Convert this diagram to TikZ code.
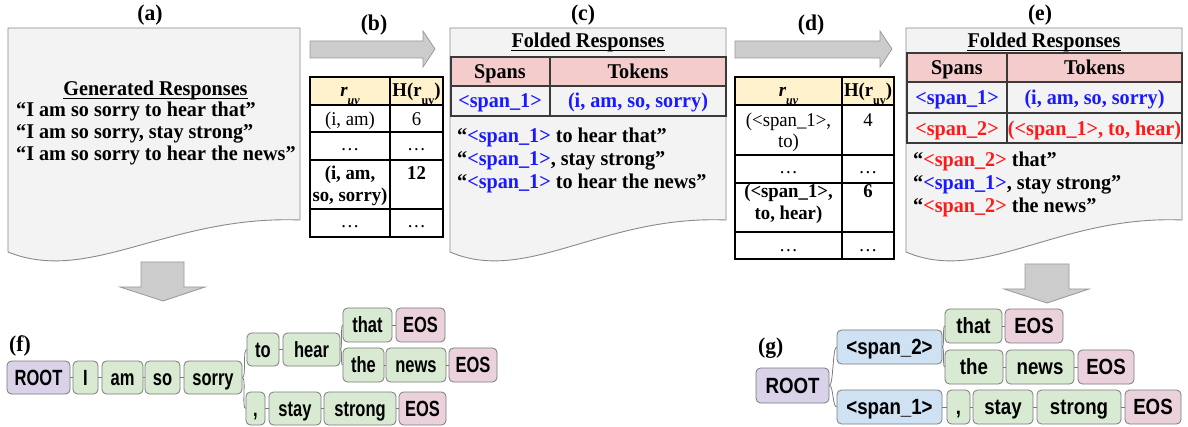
\documentclass[tikz,border=0pt]{standalone}
\usepackage{fontspec}
\setmainfont[FakeStretch=0.96]{Liberation Serif}
\newfontfamily\treefontf[FakeStretch=0.75]{Liberation Sans}
\newfontfamily\treefontg[FakeStretch=0.85]{Liberation Sans}

\definecolor{docfill}{HTML}{F3F3F3}
\definecolor{docline}{HTML}{8A8A8A}
\definecolor{arrfill}{HTML}{CCCCCC}
\definecolor{arrline}{HTML}{9A9A9A}
\definecolor{hdryellow}{HTML}{FFF2CC}
\definecolor{hdrpink}{HTML}{F4CCCC}
\definecolor{gridline}{HTML}{3A3A3A}
\definecolor{tokgreen}{HTML}{D9EAD3}
\definecolor{rootpurple}{HTML}{D9D2E9}
\definecolor{eospink}{HTML}{EAD1DC}
\definecolor{spanblue}{HTML}{CFE2F3}
\definecolor{boxline}{HTML}{7A7A7A}
\definecolor{spanone}{HTML}{1A1AFF}
\definecolor{spantwo}{HTML}{FF1A1A}

\newcommand\spanA{\textcolor{spanone}{<span\_1>}}
\newcommand\spanB{\textcolor{spantwo}{<span\_2>}}
\newcommand\ruv{r\raisebox{-8pt}{\fontsize{12.5}{12.5}\selectfont uv}}

% token box: style, name, left, right, top, bottom, text
\newcommand\tokbox[7]{%
  \node[#1, minimum width={(#4-#3)*1pt}, minimum height={(#6-#5)*1pt}]
    (#2) at ({(#3+#4)/2},{(#5+#6)/2}) {#7};}

% page-like sheet with a wavy lower edge: left, right
\newcommand\sheet[2]{%
  \draw[doc] (#1,28) -- (#2,28) -- (#2,220)
    .. controls ({#1+0.55*(#2-#1)},215) and ({#1+0.28*(#2-#1)},285) .. (#1,252) -- cycle;}

\tikzset{
  doc/.style={fill=docfill, draw=docline, line width=0.9pt},
  bigarrow/.style={fill=arrfill, draw=arrline, line width=0.8pt},
  tok/.style={draw=boxline, line width=0.8pt, rounded corners=4.5pt, inner sep=0pt,
    text height=16.4pt, text depth=0.6pt},
  tokf/.style={tok, font=\treefontf\bfseries\fontsize{22}{22}\selectfont},
  tokg/.style={tok, font=\treefontg\bfseries\fontsize{22}{22}\selectfont},
  wordf/.style={tokf, fill=tokgreen},
  rootf/.style={tokf, fill=rootpurple},
  eosf/.style={tokf, fill=eospink},
  wordg/.style={tokg, fill=tokgreen},
  rootg/.style={tokg, fill=rootpurple},
  eosg/.style={tokg, fill=eospink},
  spang/.style={tokg, fill=spanblue},
  link/.style={draw=boxline, line width=0.8pt},
  txt/.style={inner sep=0pt, anchor=base west, font=\bfseries\fontsize{21}{22}\selectfont},
  ttl/.style={inner sep=0pt, anchor=base, font=\bfseries\fontsize{21}{22}\selectfont},
  lbl/.style={inner sep=0pt, anchor=base, font=\bfseries\fontsize{22.5}{22}\selectfont},
  cellr/.style={inner sep=0pt, anchor=base, font=\fontsize{19.5}{20}\selectfont},
  cellb/.style={inner sep=0pt, anchor=base, font=\bfseries\fontsize{19.5}{20}\selectfont},
  grid/.style={draw=black, line width=1.2pt},
  grid2/.style={draw=gridline, line width=1.5pt},
  uline/.style={draw=black, line width=1pt},
}

\begin{document}
\begin{tikzpicture}[x=1pt,y=-1pt]
\useasboundingbox[fill=white] (0,0) rectangle (1188,427);

% sheets
\sheet{8}{300}
\sheet{450}{726}
\sheet{906}{1182}

% panel labels
\node[lbl] (la) at (150,21) {(a)};
\node[lbl] (lb) at (374,31) {(b)};
\node[lbl] (lc) at (583,21) {(c)};
\node[lbl] (ld) at (811,31) {(d)};
\node[lbl] (le) at (1040,21) {(e)};
\node[lbl, anchor=base west] (lf) at (9,352) {(f)};
\node[lbl, anchor=base west] (lg) at (758,353) {(g)};

% block arrows
\draw[bigarrow] (310,41) -- (423,41) -- (423,31) -- (435,49) -- (423,67) -- (423,58) -- (310,58) -- cycle;
\draw[bigarrow] (735,41) -- (880,41) -- (880,31) -- (892,49) -- (880,67) -- (880,58) -- (735,58) -- cycle;
\draw[bigarrow] (141,262) -- (184,262) -- (184,287) -- (205,287) -- (163,301) -- (120,287) -- (141,287) -- cycle;
\draw[bigarrow] (1025,264) -- (1069,264) -- (1069,289) -- (1089,289) -- (1047,303) -- (1004,289) -- (1025,289) -- cycle;

% (a) generated responses
\node[ttl] (ta) at (155.5,96) {Generated Responses};
\draw[uline] ([yshift=-3pt]ta.base west) -- ([yshift=-3pt]ta.base east);
\node[txt] (a1) at (16,117) {“I am so sorry to hear that”};
\node[txt] (a2) at (16,139) {“I am so sorry, stay strong”};
\node[txt] (a3) at (16,161) {“I am so sorry to hear the news”};

% (b) pair frequency table
\fill[hdryellow] (310,77) rectangle (443,105);
\fill[white] (310,105) rectangle (443,237);
\begin{scope}
  \clip (310,77) rectangle (443,105);
  \node[cellb] (bh1) at (350,97) {\itshape\ruv};
  \node[cellb] (bh2) at (416.5,97) {H(\ruv)};
\end{scope}
\node[cellr] (b11) at (350,126) {(i, am)};
\node[cellr] (b12) at (416.5,126) {6};
\node[cellr] (b21) at (350,151) {…};
\node[cellr] (b22) at (416.5,151) {…};
\node[cellb] (b31) at (350,180) {(i, am,};
\node[cellb] (b31b) at (350,202) {so, sorry)};
\node[cellb] (b32) at (416.5,180) {12};
\node[cellr] (b41) at (350,228) {…};
\node[cellr] (b42) at (416.5,228) {…};
\draw[grid] (310,77) rectangle (443,237);
\draw[grid] (390,77) -- (390,237);
\foreach \yy in {105,132,160,209} \draw[grid] (310,\yy) -- (443,\yy);

% (c) folded responses, first pass
\node[ttl] (tc) at (588,48) {Folded Responses};
\draw[uline] ([yshift=-3pt]tc.base west) -- ([yshift=-3pt]tc.base east);
\fill[hdrpink] (451,57) rectangle (726,86);
\draw[grid2] (451,57) rectangle (726,116);
\draw[grid2] (451,86) -- (726,86);
\draw[grid2] (550,57) -- (550,116);
\node[ttl] (ch1) at (500,79) {Spans};
\node[ttl] (ch2) at (638,79) {Tokens};
\node[ttl] (c11) at (500,108) {\spanA};
\node[ttl, text=spanone] (c12) at (638,108) {(i, am, so, sorry)};
\node[txt] (c1) at (457,143) {“\spanA{} to hear that”};
\node[txt] (c2) at (457,166) {“\spanA, stay strong”};
\node[txt] (c3) at (457,189) {“\spanA{} to hear the news”};

% (d) pair frequency table after folding
\fill[hdryellow] (735,77) rectangle (894,105);
\fill[white] (735,105) rectangle (894,259);
\begin{scope}
  \clip (735,77) rectangle (894,105);
  \node[cellb] (dh1) at (788.5,97) {\itshape\ruv};
  \node[cellb] (dh2) at (868,97) {H(\ruv)};
\end{scope}
\node[cellr] (d11) at (788.5,127) {(<span\_1>,};
\node[cellr] (d11b) at (788.5,148) {to)};
\node[cellr] (d12) at (868,127) {4};
\node[cellr] (d21) at (788.5,174) {…};
\node[cellr] (d22) at (868,174) {…};
\node[cellb] (d31) at (788.5,198) {(<span\_1>,};
\node[cellb] (d31b) at (788.5,220) {to, hear)};
\node[cellb] (d32) at (868,198) {6};
\node[cellr] (d41) at (788.5,252) {…};
\node[cellr] (d42) at (868,252) {…};
\draw[grid] (735,77) rectangle (894,259);
\draw[grid] (842,77) -- (842,259);
\foreach \yy in {105,155,183,232} \draw[grid] (735,\yy) -- (894,\yy);

% (e) folded responses, second pass
\node[ttl] (te) at (1044,48) {Folded Responses};
\draw[uline] ([yshift=-3pt]te.base west) -- ([yshift=-3pt]te.base east);
\fill[hdrpink] (907,53) rectangle (1182,82);
\draw[grid2] (907,53) rectangle (1182,143);
\draw[grid2] (907,82) -- (1182,82);
\draw[grid2] (907,113) -- (1182,113);
\draw[grid2] (1007,53) -- (1007,143);
\node[ttl] (eh1) at (957,75) {Spans};
\node[ttl] (eh2) at (1094.5,75) {Tokens};
\node[ttl] (e11) at (957,105) {\spanA};
\node[ttl, text=spanone] (e12) at (1094.5,105) {(i, am, so, sorry)};
\node[ttl] (e21) at (957,136) {\spanB};
\node[ttl, text=spantwo] (e22) at (1094.5,136) {(<span\_1>, to, hear)};
\node[txt] (e1) at (913,167) {“\spanB{} that”};
\node[txt] (e2) at (913,190) {“\spanA, stay strong”};
\node[txt] (e3) at (913,213) {“\spanB{} the news”};

% (f) prefix tree of the raw responses
\tokbox{rootf}{fr}{7}{70}{361}{394}{ROOT}
\tokbox{wordf}{fi}{73}{98}{361}{394}{I}
\tokbox{wordf}{fam}{102}{143}{361}{394}{am}
\tokbox{wordf}{fso}{145}{180}{361}{394}{so}
\tokbox{wordf}{fsorry}{184}{242}{361}{394}{sorry}
\tokbox{wordf}{fto}{247}{279}{333}{366}{to}
\tokbox{wordf}{fhear}{283}{340}{333}{366}{hear}
\tokbox{wordf}{fthat}{343}{392}{308}{342}{that}
\tokbox{eosf}{feosa}{396}{445}{308}{342}{EOS}
\tokbox{wordf}{fthe}{343}{384}{348}{382}{the}
\tokbox{wordf}{fnews}{386}{446}{348}{382}{news}
\tokbox{eosf}{feosb}{449}{497}{348}{382}{EOS}
\tokbox{wordf}{fcomma}{246}{265}{392}{425}{,}
\tokbox{wordf}{fstay}{269}{321}{392}{425}{stay}
\tokbox{wordf}{fstrong}{324}{396}{392}{425}{strong}
\tokbox{eosf}{feosc}{399}{446}{392}{425}{EOS}

\draw[link] (fr) -- (fi);
\draw[link] (fi) -- (fam);
\draw[link] (fam) -- (fso);
\draw[link] (fso) -- (fsorry);
\draw[link] (fsorry.east) .. controls +(4,0) and +(-4,0) .. (fto.west);
\draw[link] (fsorry.east) .. controls +(4,0) and +(-4,0) .. (fcomma.west);
\draw[link] (fto) -- (fhear);
\draw[link] (fhear.east) .. controls +(2,0) and +(-2,0) .. (fthat.west);
\draw[link] (fhear.east) .. controls +(2,0) and +(-2,0) .. (fthe.west);
\draw[link] (fthat) -- (feosa);
\draw[link] (fthe) -- (fnews);
\draw[link] (fnews) -- (feosb);
\draw[link] (fcomma) -- (fstay);
\draw[link] (fstay) -- (fstrong);
\draw[link] (fstrong) -- (feosc);

% (g) prefix tree of the folded responses
\tokbox{rootg}{gr}{756}{829}{368}{403}{ROOT}
\tokbox{spang}{gsb}{837}{942}{330}{364}{<span\_2>}
\tokbox{spang}{gsa}{837}{942}{390}{424}{<span\_1>}
\tokbox{wordg}{gthat}{945}{1002}{309}{343}{that}
\tokbox{eosg}{geosa}{1005}{1063}{309}{343}{EOS}
\tokbox{wordg}{gthe}{945}{1003}{350}{384}{the}
\tokbox{wordg}{gnews}{1006}{1074}{350}{384}{news}
\tokbox{eosg}{geosb}{1078}{1134}{350}{384}{EOS}
\tokbox{wordg}{gcomma}{947}{970}{390}{424}{,}
\tokbox{wordg}{gstay}{973}{1033}{390}{424}{stay}
\tokbox{wordg}{gstrong}{1037}{1121}{390}{424}{strong}
\tokbox{eosg}{geosc}{1125}{1181}{390}{424}{EOS}

\draw[link] (gr.east) .. controls +(4,0) and +(-4,0) .. (gsb.west);
\draw[link] (gr.east) .. controls +(4,0) and +(-4,0) .. (gsa.west);
\draw[link] (gsb.east) .. controls +(2,0) and +(-2,0) .. (gthat.west);
\draw[link] (gsb.east) .. controls +(2,0) and +(-2,0) .. (gthe.west);
\draw[link] (gthat) -- (geosa);
\draw[link] (gthe) -- (gnews);
\draw[link] (gnews) -- (geosb);
\draw[link] (gsa) -- (gcomma);
\draw[link] (gcomma) -- (gstay);
\draw[link] (gstay) -- (gstrong);
\draw[link] (gstrong) -- (geosc);
\end{tikzpicture}
\end{document}
